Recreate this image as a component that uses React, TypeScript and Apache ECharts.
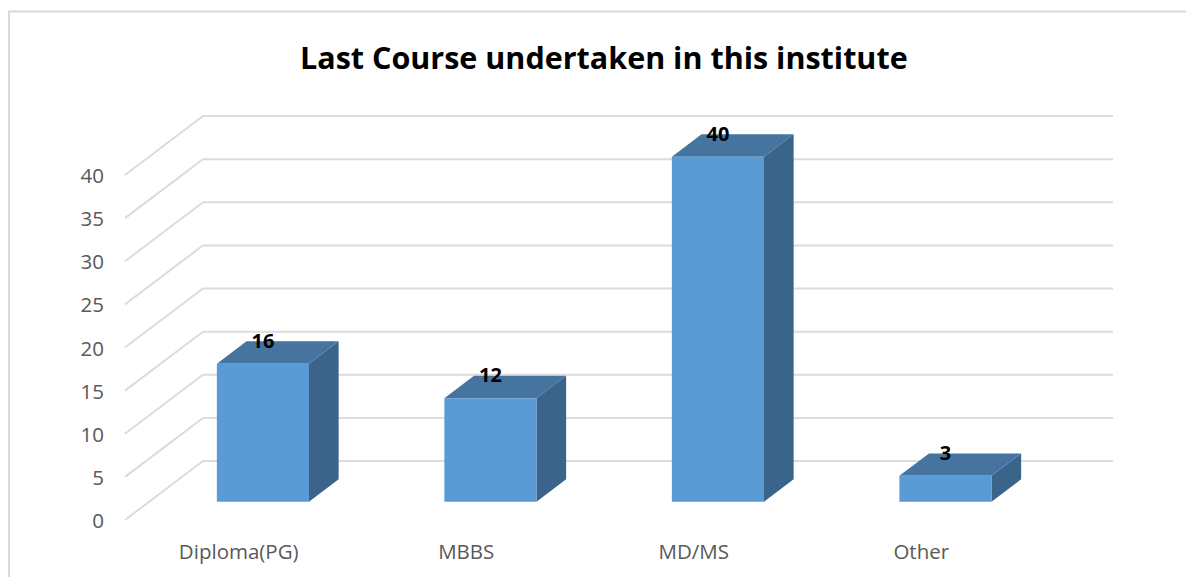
import React, { useEffect, useRef } from "react";
import * as echarts from "echarts";

const titleText = "Last Course undertaken in this institute";
const categories = ["Diploma(PG)", "MBBS", "MD/MS", "Other"];
const values = [16, 12, 40, 3];
const yTicks = [0, 5, 10, 15, 20, 25, 30, 35, 40];

// 3D geometry (pixels): full depth offset of the floor / back wall
const DEPTH_DX = 78;
const DEPTH_DY = -59;
const BAR_FRONT = 0.31; // bar front face position as fraction of depth
const BAR_DEPTH = 0.38; // bar depth as fraction of depth
const BAR_WIDTH_RATIO = 0.405;

export default function App() {
  const ref = useRef<HTMLDivElement>(null);

  useEffect(() => {
    if (!ref.current) return;
    const chart = echarts.init(ref.current, null, { renderer: "svg" });
    const font = "'Open Sans', 'Noto Sans', sans-serif";

    const option: any = {
      animation: false,
      backgroundColor: "#ffffff",
      title: {
        text: titleText,
        left: 295,
        top: 36,
        textStyle: {
          fontFamily: font,
          fontWeight: "bold",
          fontSize: 30.5,
          color: "#000000",
        },
      },
      graphic: [
        {
          type: "rect",
          shape: { x: 9, y: 11.5, width: 1400, height: 800 },
          style: { fill: "none", stroke: "#D9D9D9", lineWidth: 2 },
          silent: true,
          z: -10,
        },
      ],
      grid: { left: 125, right: 151, top: 175, bottom: 57, containLabel: false },
      xAxis: {
        type: "category",
        data: categories,
        axisLine: { show: false },
        axisTick: { show: false },
        splitLine: { show: false },
        axisLabel: {
          margin: 20,
          fontFamily: font,
          fontSize: 20.5,
          color: "#595959",
        },
      },
      yAxis: {
        type: "value",
        min: 0,
        max: 40,
        interval: 5,
        axisLine: { show: false },
        axisTick: { show: false },
        splitLine: { show: false },
        axisLabel: {
          margin: 21,
          fontFamily: font,
          fontSize: 20.5,
          color: "#595959",
        },
      },
      series: [
        {
          type: "custom",
          name: "grid3d",
          silent: true,
          z: 1,
          data: yTicks.map((v) => [0, v]),
          renderItem: (params: any, api: any) => {
            const cs = params.coordSys;
            const y = api.coord([0, api.value(1)])[1];
            const x0 = cs.x;
            const x1 = cs.x + cs.width;
            return {
              type: "polyline",
              shape: {
                points: [
                  [x0, y],
                  [x0 + DEPTH_DX, y + DEPTH_DY],
                  [x1 + DEPTH_DX, y + DEPTH_DY],
                ],
              },
              style: { stroke: "#DCDCDC", lineWidth: 2, fill: "none" },
            };
          },
        },
        {
          type: "custom",
          name: "bars",
          z: 5,
          data: values.map((v, i) => [i, v]),
          renderItem: (params: any, api: any) => {
            const idx = api.value(0);
            const val = api.value(1);
            const base = api.coord([idx, 0]);
            const top = api.coord([idx, val]);
            const bw = api.size([1, 0])[0] * BAR_WIDTH_RATIO;
            const fdx = DEPTH_DX * BAR_FRONT;
            const fdy = DEPTH_DY * BAR_FRONT;
            const ddx = DEPTH_DX * BAR_DEPTH;
            const ddy = DEPTH_DY * BAR_DEPTH;
            const cx = base[0] + fdx;
            const xl = cx - bw / 2;
            const xr = cx + bw / 2;
            const yb = base[1] + fdy;
            const yt = top[1] + fdy;
            return {
              type: "group",
              children: [
                {
                  type: "polygon",
                  shape: {
                    points: [
                      [xr, yt],
                      [xr + ddx, yt + ddy],
                      [xr + ddx, yb + ddy],
                      [xr, yb],
                    ],
                  },
                  style: { fill: "#3A6489" },
                },
                {
                  type: "polygon",
                  shape: {
                    points: [
                      [xl, yt],
                      [xr, yt],
                      [xr + ddx, yt + ddy],
                      [xl + ddx, yt + ddy],
                    ],
                  },
                  style: { fill: "#44749F" },
                },
                {
                  type: "rect",
                  shape: { x: xl, y: yt, width: bw, height: yb - yt },
                  style: { fill: "#5B9BD5" },
                },
                {
                  type: "text",
                  x: cx,
                  y: yt + ddy - 1,
                  style: {
                    text: String(val),
                    fontFamily: font,
                    fontWeight: "bold",
                    fontSize: 20,
                    fill: "#000000",
                    align: "center",
                    verticalAlign: "middle",
                  },
                  z2: 10,
                },
              ],
            };
          },
        },
      ],
    };

    chart.setOption(option);
    return () => chart.dispose();
  }, []);

  return (
    <div
      ref={ref}
      style={{ position: "fixed", left: 0, top: 0, width: 1186, height: 577 }}
    />
  );
}
